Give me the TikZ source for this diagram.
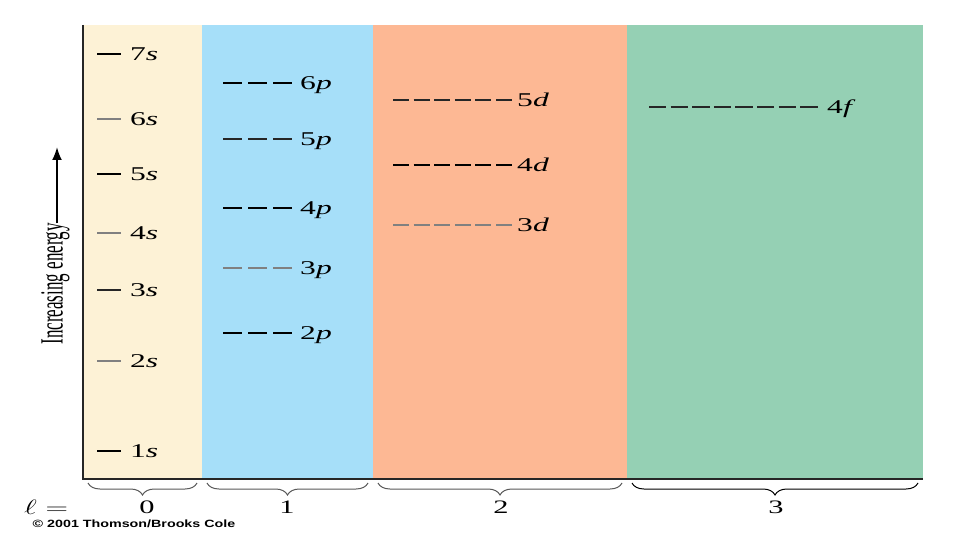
\documentclass[tikz,border=0pt]{standalone}
\usepackage{fontspec}
\setmainfont{Liberation Serif}
\newfontfamily\copyfont{Liberation Sans}
\usetikzlibrary{arrows.meta,decorations.pathreplacing}
\definecolor{creamc}{RGB}{253,242,214}
\definecolor{bluec}{RGB}{166,223,249}
\definecolor{salmonc}{RGB}{253,184,148}
\definecolor{greenc}{RGB}{149,208,180}
\newcommand\hwide[2]{\scalebox{#1}[1]{#2}}
\tikzset{
  lvbold/.style={line width=2.2pt, black},
  lvmid/.style={line width=1.6pt, black!85},
  lvthin/.style={line width=1.2pt, black!50},
  lvlabel/.style={anchor=base west, inner sep=0pt, font=\fontsize{19.5}{21}\selectfont},
  numlab/.style={inner sep=0pt, font=\fontsize{19}{21}\selectfont},
  brc/.style={line width=1pt, decorate, decoration={brace, mirror, amplitude=12pt}},
  axisline/.style={line width=1.6pt, black!85},
  pdash/.style={dash pattern=on 19pt off 6pt, shorten >=8pt},
  ddash/.style={dash pattern=on 16pt off 4.6pt, shorten >=5pt},
  fdash/.style={dash pattern=on 17.4pt off 4.2pt, shorten >=9pt},
  sline/.style={shorten >=9pt}
}
\begin{document}
\begin{tikzpicture}[x=1pt,y=-1pt]
\useasboundingbox (0,0) rectangle (960,540);
\fill[white] (0,0) rectangle (960,540);
% panels
\fill[creamc] (83,25) rectangle (202,479);
\fill[bluec] (202,25) rectangle (373,479);
\fill[salmonc] (373,25) rectangle (627,479);
\fill[greenc] (627,25) rectangle (923,479);
% axes
\coordinate (top) at (83,25);
\coordinate (origin) at (83,479);
\coordinate (right) at (923,479);
\draw[axisline] (top) -- (origin) -- (right);
% s levels
\foreach \lvn/\lvl/\lvy/\lvs in {7/s/54/lvbold, 6/s/119/lvthin, 5/s/174/lvbold, 4/s/233/lvthin, 3/s/290/lvmid, 2/s/361/lvthin, 1/s/451/lvbold}{
  \coordinate (a\lvn\lvl) at (97,\lvy);
  \node[lvlabel] (t\lvn\lvl) at (130,\lvy+6.5) {\hwide{1.62}{\lvn\textit{\lvl}}};
  \draw[\lvs, sline] (a\lvn\lvl) -- (a\lvn\lvl -| t\lvn\lvl.west);
}
% p levels
\foreach \lvn/\lvl/\lvy/\lvs in {6/p/83/lvbold, 5/p/139/lvmid, 4/p/208/lvbold, 3/p/268/lvthin, 2/p/333/lvbold}{
  \coordinate (a\lvn\lvl) at (223,\lvy);
  \node[lvlabel] (t\lvn\lvl) at (300,\lvy+6.5) {\hwide{1.62}{\lvn\textit{\lvl}}};
  \draw[\lvs, pdash] (a\lvn\lvl) -- (a\lvn\lvl -| t\lvn\lvl.west);
}
% d levels
\foreach \lvn/\lvl/\lvy/\lvs in {5/d/100/lvmid, 4/d/165/lvbold, 3/d/225/lvthin}{
  \coordinate (a\lvn\lvl) at (393,\lvy);
  \node[lvlabel] (t\lvn\lvl) at (517,\lvy+6.5) {\hwide{1.62}{\lvn\textit{\lvl}}};
  \draw[\lvs, ddash] (a\lvn\lvl) -- (a\lvn\lvl -| t\lvn\lvl.west);
}
% f level
\coordinate (a4f) at (649,107);
\node[lvlabel] (t4f) at (827,113.5) {\hwide{1.62}{4\textit{f}}};
\draw[lvmid, fdash] (a4f) -- (a4f -| t4f.west);
% energy arrow
\node[rotate=90, inner sep=0pt, font=\fontsize{17}{19}\selectfont] (energy) at (55.5,284) {\scalebox{1}[1.9]{Increasing energy}};
\coordinate (tip) at (57,147);
\draw[line width=2pt, -{Latex[length=13pt,width=10pt]}] (tip |- energy.east) -- (tip);
% braces
\draw[brc, black!65] (88,483) -- (197,483);
\draw[brc, black!65] (207,483) -- (368,483);
\draw[brc, black!65] (378,483) -- (622,483);
\draw[brc, black] (632,483) -- (918,483);
\node[numlab] (l0) at (147,507.5) {\hwide{1.6}{0}};
\node[numlab] (l1) at (287,507.5) {\hwide{1.6}{1}};
\node[numlab] (l2) at (501,507.5) {\hwide{1.6}{2}};
\node[numlab] (l3) at (776,507.5) {\hwide{1.6}{3}};
\node[inner sep=0pt, font=\fontsize{21}{23}\selectfont] (ell) at (46,507) {\hwide{1.5}{$\ell =$}};
\node[inner sep=0pt, font=\copyfont\bfseries\fontsize{10.5}{12}\selectfont] (copy) at (134,523.5) {\hwide{1.36}{© 2001 Thomson/Brooks Cole}};
\end{tikzpicture}
\end{document}
